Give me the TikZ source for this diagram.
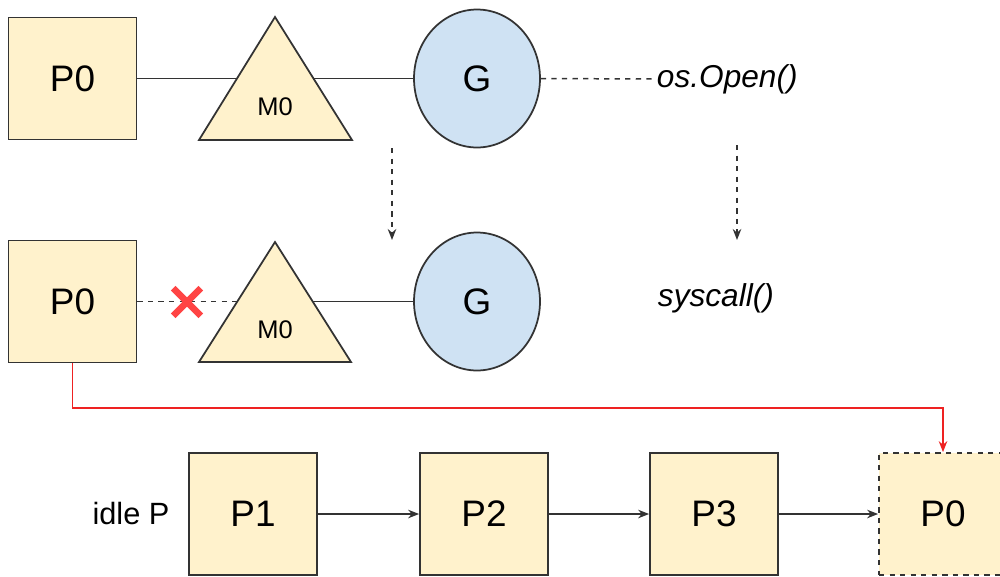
\documentclass[tikz,border=0pt]{standalone}
\usepackage{fontspec}
\setmainfont{Liberation Sans}
\usetikzlibrary{arrows.meta,shapes.geometric,shapes.misc}
\definecolor{pfill}{HTML}{FFF2CC}
\definecolor{gfill}{HTML}{CFE2F3}
\definecolor{edge}{HTML}{333333}
\definecolor{xred}{HTML}{FF4444}
\definecolor{lred}{HTML}{EE2222}

\begin{document}
\begin{tikzpicture}[x=0.02cm, y=-0.02cm, >={Stealth[length=2.2mm,width=1.7mm]},
    pbox/.style={draw=edge, fill=pfill, line width=1pt, minimum width=2.56cm, minimum height=2.44cm, inner sep=0pt, font=\fontsize{21}{25}\selectfont},
    gnode/.style={ellipse, draw=edge, fill=gfill, line width=1pt, minimum width=2.52cm, minimum height=2.76cm, inner sep=0pt, font=\fontsize{21}{25}\selectfont},
    mtri/.style={draw=edge, fill=pfill, line width=1pt},
    mlab/.style={font=\fontsize{14.5}{17}\selectfont},
    call/.style={font=\fontsize{18}{21}\selectfont\itshape, inner sep=1.5pt},
    link/.style={draw=edge, line width=0.85pt}]
    \useasboundingbox (0,0) rectangle (1000,576);

    % first row: P0 -- M0 -- G running os.Open()
    \node[pbox] (p0a) at (72.5,78.5) {P0};
    \node[gnode] (ga) at (477,78.5) {G};
    \coordinate (ma) at (275,78.5);
    \node[call, anchor=west] (open) at (654,79) {os.Open()};

    \draw[link] (p0a.east) -- (ma) -- (ga.west);
    \draw[link, dashed] (ga.east) -- (open.west);
    \draw[mtri] (275,17) -- (352,140) -- (199,140) -- cycle;
    \node[mlab] (m0a) at (275,107) {M0};

    \coordinate (d1a) at (392,148);
    \coordinate (d1b) at (392,240);
    \coordinate (d2a) at (737,145);
    \coordinate (d2b) at (737,240);
    \draw[link, dashed, ->] (d1a) -- (d1b);
    \draw[link, dashed, ->] (d2a) -- (d2b);

    % second row: M0 blocked in syscall, P0 released
    \node[pbox] (p0b) at (72.5,301.5) {P0};
    \node[gnode] (gb) at (477,301.5) {G};
    \coordinate (mb) at (275,301.5);
    \node[call, anchor=west] (sys) at (655,298) {syscall()};

    \draw[link, dashed] (p0b.east) -- (mb);
    \draw[link] (mb) -- (gb.west);
    \draw[mtri] (275,242) -- (351,362) -- (199,362) -- cycle;
    \node[mlab] (m0b) at (275,330) {M0};
    \node[cross out, draw=xred, line width=3.8pt, minimum size=0.42cm, inner sep=0pt] (cut) at (187,302) {};

    % third row: idle P list
    \node[font=\fontsize{17.5}{20}\selectfont] (idle) at (131,513) {idle P};
    \foreach \n/\x in {1/253, 2/484, 3/714}{
        \node[pbox] (p\n) at (\x,514) {P\n};
    }
    \node[pbox, dashed] (p0c) at (943,514) {P0};

    \draw[link, ->] (p1.east) -- (p2.west);
    \draw[link, ->] (p2.east) -- (p3.west);
    \draw[link, ->] (p3.east) -- (p0c.west);

    \coordinate (bend) at (72.5,408);
    \draw[lred, line width=0.85pt, ->] (p0b.south) -- (bend) -| (p0c.north);
\end{tikzpicture}
\end{document}
